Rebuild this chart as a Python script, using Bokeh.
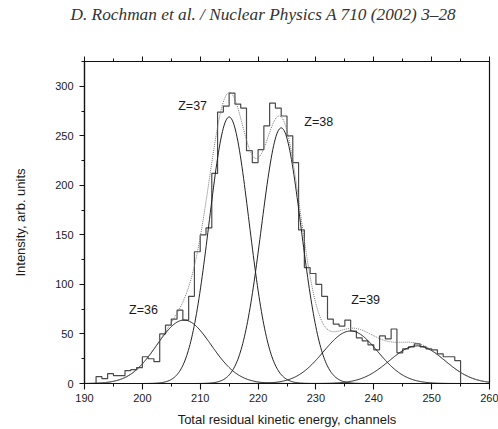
import numpy as np
from bokeh.plotting import figure
from bokeh.models import Range1d, SingleIntervalTicker, LinearAxis, Label
from bokeh.embed import file_html
from bokeh.resources import INLINE

# ---- data ----
channels = list(range(192, 255))  # left bin edges, width 1 channel
counts = [7, 5, 10, 8, 8, 13, 14, 16, 27, 25,
          22, 50, 59, 65, 74, 64, 88, 133, 150, 157,
          212, 274, 280, 293, 282, 278, 235, 223, 236, 260,
          283, 278, 270, 250, 223, 155, 117, 111, 100, 88,
          65, 60, 58, 64, 53, 46, 43, 39, 34, 48,
          45, 55, 31, 35, 37, 40, 37, 35, 34, 30,
          27, 27, 23]

# fitted gaussian components (centre, height, sigma)
fit_centres = [207.2, 215.0, 224.0, 236.0, 247.5]
fit_heights = [64, 269, 258, 53, 38]
fit_sigmas = [4.7, 3.45, 3.45, 4.7, 4.8]

label_texts = ["Z=36", "Z=37", "Z=38", "Z=39"]
label_x = [197.7, 206.2, 228.0, 236.1]
label_y = [74.4, 280.5, 263.6, 84.5]

x_ticks_interval = 10
y_ticks_interval = 50

header = "D. Rochman et al. / Nuclear Physics A 710 (2002) 3\u201328"
x_title = "Total residual kinetic energy, channels"
y_title = "Intensity, arb. units"

# ---- figure ----
p = figure(width=498, height=429, output_backend="svg", toolbar_location=None,
           x_range=Range1d(190, 260), y_range=Range1d(0, 325),
           min_border_left=84, min_border_right=9, min_border_top=61,
           min_border_bottom=45, title=header + "\n ")
p.background_fill_color = "white"
p.border_fill_color = "white"
p.outline_line_color = "#111111"
p.outline_line_width = 1.2
p.grid.visible = False

p.title.text_font = "Liberation Serif"
p.title.text_font_style = "italic"
p.title.text_font_size = "17.3px"
p.title.text_color = "#333333"
p.title.align = "left"
p.title.offset = -14
p.title.vertical_align = "top"
p.title.text_line_height = 1.55
p.title.standoff = 4

LABEL_FONT = "Liberation Sans"

xa = p.xaxis[0]
xa.ticker = SingleIntervalTicker(interval=x_ticks_interval, num_minor_ticks=2)
ya = p.yaxis[0]
ya.ticker = SingleIntervalTicker(interval=y_ticks_interval, num_minor_ticks=2)
for ax in (xa, ya):
    ax.axis_line_color = "#111111"
    ax.axis_line_width = 1.2
    ax.major_tick_line_color = "#111111"
    ax.minor_tick_line_color = "#111111"
    ax.major_tick_line_width = 1.1
    ax.minor_tick_line_width = 1.0
    ax.major_tick_in = 0
    ax.major_tick_out = 5
    ax.minor_tick_in = 0
    ax.minor_tick_out = 3
    ax.major_label_text_font = LABEL_FONT
    ax.major_label_text_font_size = "11px"
    ax.major_label_text_color = "#1a1a1a"
    ax.axis_label_text_font = LABEL_FONT
    ax.axis_label_text_font_size = "13px"
    ax.axis_label_text_font_style = "normal"
    ax.axis_label_text_color = "#1a1a1a"
xa.major_tick_out = 6
xa.major_label_standoff = 4
xa.axis_label = x_title
xa.axis_label_standoff = 7
ya.major_label_standoff = 6
ya.axis_label = y_title
ya.axis_label_standoff = 24

top = LinearAxis(ticker=SingleIntervalTicker(interval=x_ticks_interval, num_minor_ticks=2))
top.axis_line_color = "#111111"
top.major_tick_line_color = "#111111"
top.minor_tick_line_color = "#111111"
top.major_tick_in = 0
top.major_tick_out = 5
top.minor_tick_in = 0
top.minor_tick_out = 3
top.major_label_text_font_size = "0px"
top.major_label_text_alpha = 0
top.major_label_standoff = 0
p.add_layout(top, "above")

# ---- histogram (step outline from baseline) ----
edges = channels + [channels[-1] + 1]
hx = [edges[0]] + edges
hy = [0] + counts + [0]
p.step(hx, hy, mode="after", line_color="#4a4a4a", line_width=1.2)

# ---- fit components and total ----
xs = np.linspace(190, 260, 500)
total = np.zeros_like(xs)
for c, h, s in zip(fit_centres, fit_heights, fit_sigmas):
    g = h * np.exp(-((xs - c) ** 2) / (2 * s * s))
    total += g
    p.line(xs, g, line_color="#222222", line_width=1.0)
p.line(xs, total, line_color="#777777", line_width=1.0, line_dash="1 1")

# ---- labels ----
for t, lx, ly in zip(label_texts, label_x, label_y):
    p.add_layout(Label(x=lx, y=ly, text=t, text_font=LABEL_FONT,
                       text_font_size="12.5px", text_color="#1a1a1a",
                       text_baseline="middle", text_align="left"))

open("out.html", "w").write(file_html(p, INLINE))
